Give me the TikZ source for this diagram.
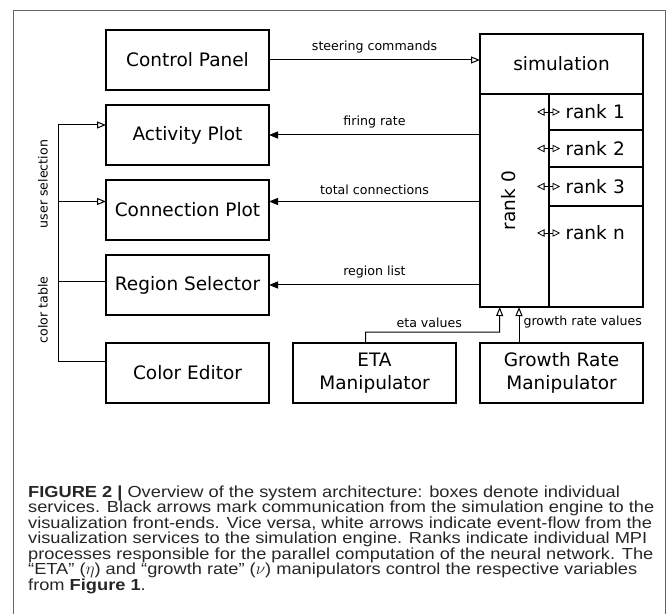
\documentclass[tikz,border=0pt]{standalone}
\usepackage{fontspec}
\usepackage{tikz}
\usetikzlibrary{arrows.meta,positioning,calc}
\newfontfamily\diagfont{DejaVu Sans}
\newfontfamily\capfont[FakeStretch=1.14]{Liberation Sans}

\begin{document}
\begin{tikzpicture}[
  x=1pt, y=1pt,
  node distance=15pt,
  service/.style={draw, line width=1.3pt, outer sep=0pt, minimum width=163pt, minimum height=60pt, align=center, font=\diagfont\fontsize{18.5}{23.3}\selectfont},
  rankbox/.style={draw, line width=1.3pt, outer sep=0pt, text width=61pt, inner xsep=16.5pt, align=left, font=\diagfont\fontsize{18.5}{22}\selectfont},
  flowlabel/.style={font=\diagfont\fontsize{12.6}{15}\selectfont},
  toback/.style={-{Triangle[open, length=9pt, width=7pt]}, line width=1pt},
  tofront/.style={-{Triangle[length=9pt, width=7pt]}, line width=1pt},
  mpi/.style={{Triangle[open, length=7.5pt, width=7.5pt]}-{Triangle[open, length=7.5pt, width=7.5pt]}, line width=0.8pt},
  caption/.style={align=left, inner sep=0pt, text=black!85, font={\capfont\fontsize{16}{15.5}\selectfont\lineskiplimit=-20pt\relax}}
]
\useasboundingbox (0,0) rectangle (669,614);
\draw[gray!80!black, line width=1pt] (13.5,0) |- (665.5,603) -- (665.5,0);

\node[service] (ctrl) at (187.5,554) {Control Panel};
\node[service, below=of ctrl] (actplot) {Activity Plot};
\node[service, below=of actplot] (connplot) {Connection Plot};
\node[service, below=of connplot] (regionsel) {Region Selector};
\node[service, below=28pt of regionsel] (coloredit) {Color Editor};
\node[service, right=24pt of coloredit] (etaman) {ETA\\Manipulator};
\node[service, right=24pt of etaman] (growthman) {Growth Rate\\Manipulator};

\node[service, right=211pt of ctrl, yshift=-4pt] (sim) {simulation};
\node[service, minimum width=69pt, minimum height=213pt, anchor=north west] (rankzero) at (sim.south west) {\rotatebox{90}{rank 0}\hspace*{12pt}};
\node[rankbox, minimum height=36pt, anchor=north west] (rankone) at (rankzero.north east) {rank 1};
\node[rankbox, minimum height=37pt, below=0pt of rankone] (ranktwo) {rank 2};
\node[rankbox, minimum height=39pt, below=0pt of ranktwo] (rankthree) {rank 3};
\node[rankbox, draw=none, minimum height=54pt, below=0pt of rankthree] (rankn) {rank n};
\draw[line width=1.3pt] (rankthree.south east) |- (rankzero.south east);

\draw[mpi] ([xshift=-12pt]rankone.west) -- ([xshift=11pt]rankone.west);
\draw[mpi] ([xshift=-12pt]ranktwo.west) -- ([xshift=11pt]ranktwo.west);
\draw[mpi] ([xshift=-12pt]rankthree.west) -- ([xshift=11pt]rankthree.west);
\draw[mpi] ([xshift=-12pt]rankn.west) -- ([xshift=11pt]rankn.west);

\draw[toback] (ctrl.east) -- node[flowlabel, above, yshift=3pt] {steering commands} (ctrl.east -| sim.west);
\draw[tofront] (rankzero.west |- actplot.east) -- node[flowlabel, above, yshift=3pt] {firing rate} (actplot.east);
\draw[tofront] ($(rankzero.west |- connplot.east)+(0,8.5)$) -- node[flowlabel, above, yshift=3pt] {total connections} ([yshift=8.5pt]connplot.east);
\draw[tofront] (rankzero.west |- regionsel.east) -- node[flowlabel, above, yshift=3pt] {region list} (regionsel.east);

% user selection / color table bus
\draw[toback] ([yshift=11.5pt]coloredit.west) -| ([xshift=-47.3pt, yshift=10pt]actplot.west) -- ([yshift=10pt]actplot.west);
\draw[toback] ([xshift=-47.3pt, yshift=8.5pt]connplot.west) -- ([yshift=8.5pt]connplot.west);
\draw[line width=1pt] ([xshift=-47.3pt, yshift=3.5pt]regionsel.west) -- ([yshift=3.5pt]regionsel.west);
\node[flowlabel, rotate=90] (usersel) at (43,430) {user selection};
\node[flowlabel, rotate=90] (colortab) at (43,304) {color table};

\draw[toback] ([xshift=-9pt]etaman.north) -- ++(0,11) -- node[flowlabel, pos=0.476, above] {eta values} ++(134,0) -- ([xshift=-14.8pt]rankzero.south);
\draw[toback] ([xshift=-42.5pt]growthman.north) -- node[flowlabel, pos=0.58, right, inner xsep=4pt] {growth rate values} ([xshift=4.5pt]rankzero.south);

% Caption
\node[caption, anchor=north west] (figcap) at (28,128.5) {\textbf{FIGURE 2 |} Overview of the system architecture: boxes denote individual\\
services. Black arrows mark communication from the simulation engine to the\\
visualization front-ends. Vice versa, white arrows indicate event-flow from the\\
visualization services to the simulation engine. Ranks indicate individual MPI\\
processes responsible for the parallel computation of the neural network. The\\
“ETA” ($\eta$) and “growth rate” ($\nu$) manipulators control the respective variables\\
from \textbf{Figure 1}.};

\end{tikzpicture}
\end{document}
